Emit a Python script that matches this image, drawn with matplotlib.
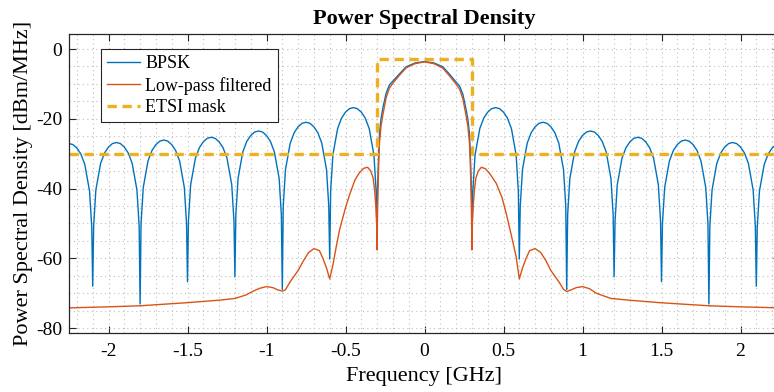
import matplotlib
matplotlib.use('Agg')
import matplotlib.pyplot as plt
from matplotlib.ticker import MultipleLocator, FormatStrFormatter

plt.rcParams['font.family'] = ['Liberation Serif', 'DejaVu Serif']
plt.rcParams['axes.unicode_minus'] = False

# BPSK spectrum, frequency in GHz, PSD in dBm/MHz
freq_bpsk = [
    -2.25, -2.225, -2.2, -2.175, -2.15, -2.12, -2.106, -2.1,
    -2.094, -2.08, -2.05, -2.025, -2.0, -1.975, -1.95, -1.925, -1.9, -1.875, -1.85, -1.82, -1.806, -1.8,
    -1.794, -1.78, -1.75, -1.725, -1.7, -1.675, -1.65, -1.625, -1.6, -1.575, -1.55, -1.52, -1.506, -1.5,
    -1.494, -1.48, -1.45, -1.425, -1.4, -1.375, -1.35, -1.325, -1.3, -1.275, -1.25, -1.22, -1.206, -1.2,
    -1.194, -1.18, -1.15, -1.125, -1.1, -1.075, -1.05, -1.025, -1.0, -0.975, -0.95, -0.92, -0.906, -0.9,
    -0.894, -0.88, -0.85, -0.825, -0.8, -0.775, -0.75, -0.725, -0.7, -0.675, -0.65, -0.62, -0.606, -0.6,
    -0.594, -0.58, -0.55, -0.525, -0.5, -0.475, -0.45, -0.425, -0.4, -0.375, -0.35, -0.32, -0.306, -0.3,
    -0.297, -0.29, -0.285, -0.275, -0.264, -0.243, -0.222, -0.2, -0.16, -0.116, -0.06, 0.0,
    0.06, 0.116, 0.16, 0.2, 0.222, 0.243, 0.264, 0.275, 0.285, 0.29, 0.297,
    0.3, 0.306, 0.32, 0.35, 0.375, 0.4, 0.425, 0.45, 0.475, 0.5, 0.525, 0.55, 0.58, 0.594,
    0.6, 0.606, 0.62, 0.65, 0.675, 0.7, 0.725, 0.75, 0.775, 0.8, 0.825, 0.85, 0.88, 0.894,
    0.9, 0.906, 0.92, 0.95, 0.975, 1.0, 1.025, 1.05, 1.075, 1.1, 1.125, 1.15, 1.18, 1.194,
    1.2, 1.206, 1.22, 1.25, 1.275, 1.3, 1.325, 1.35, 1.375, 1.4, 1.425, 1.45, 1.48, 1.494,
    1.5, 1.506, 1.52, 1.55, 1.575, 1.6, 1.625, 1.65, 1.675, 1.7, 1.725, 1.75, 1.78, 1.794,
    1.8, 1.806, 1.82, 1.85, 1.875, 1.9, 1.925, 1.95, 1.975, 2.0, 2.025, 2.05, 2.08, 2.094,
    2.1, 2.106, 2.12, 2.15, 2.175, 2.2, 2.225, 2.25,
]
psd_bpsk = [
    -27.1, -27.4, -28.4, -30.1, -33.1, -40.7, -51.1, -68.0,
    -50.8, -40.4, -32.8, -29.8, -28.1, -27.1, -26.8, -27.1, -28.1, -29.8, -32.8, -40.4, -50.8, -73.1,
    -50.1, -39.7, -32.1, -29.1, -27.4, -26.4, -26.1, -26.4, -27.4, -29.1, -32.1, -39.7, -50.1, -66.7,
    -49.3, -38.9, -31.3, -28.3, -26.6, -25.6, -25.3, -25.6, -26.6, -28.3, -31.3, -38.9, -49.3, -65.3,
    -47.5, -37.1, -29.5, -26.5, -24.8, -23.8, -23.5, -23.8, -24.8, -26.5, -29.5, -37.1, -47.5, -68.9,
    -45.0, -34.6, -27.0, -24.0, -22.3, -21.3, -21.0, -21.3, -22.3, -24.0, -27.0, -34.6, -45.0, -60.2,
    -40.8, -30.4, -22.8, -19.8, -18.1, -17.1, -16.8, -17.1, -18.1, -19.8, -22.8, -30.4, -40.8, -55.0,
    -40.0, -30.0, -24.2, -20.0, -17.0, -12.7, -10.3, -9.2, -7.2, -5.1, -4.0, -3.6,
    -4.0, -5.1, -7.3, -9.5, -10.6, -13.0, -17.5, -20.3, -24.5, -30.0, -40.0,
    -55.0, -40.8, -30.4, -22.8, -19.8, -18.1, -17.1, -16.8, -17.1, -18.1, -19.8, -22.8, -30.4, -40.8,
    -60.2, -45.0, -34.6, -27.0, -24.0, -22.3, -21.3, -21.0, -21.3, -22.3, -24.0, -27.0, -34.6, -45.0,
    -68.9, -47.5, -37.1, -29.5, -26.5, -24.8, -23.8, -23.5, -23.8, -24.8, -26.5, -29.5, -37.1, -47.5,
    -65.3, -49.3, -38.9, -31.3, -28.3, -26.6, -25.6, -25.3, -25.6, -26.6, -28.3, -31.3, -38.9, -49.3,
    -66.7, -50.1, -39.7, -32.1, -29.1, -27.4, -26.4, -26.1, -26.4, -27.4, -29.1, -32.1, -39.7, -50.1,
    -73.1, -50.8, -40.4, -32.8, -29.8, -28.1, -27.1, -26.8, -27.1, -28.1, -29.8, -32.8, -40.4, -50.8,
    -68.0, -51.1, -40.7, -33.1, -30.1, -28.4, -27.4, -27.1,
]

# low-pass filtered spectrum
freq_lpf = [
    -2.25, -2.0, -1.8, -1.5, -1.3, -1.2, -1.13, -1.08, -1.044, -1.0, -0.96, -0.93, -0.9, -0.88,
    -0.85, -0.8, -0.77, -0.735, -0.7, -0.665, -0.643, -0.62, -0.6, -0.58, -0.56, -0.538, -0.5,
    -0.475, -0.44, -0.411, -0.385, -0.36, -0.34, -0.325, -0.316, -0.308, -0.303, -0.3,
    -0.297, -0.29, -0.285, -0.275, -0.264, -0.243, -0.222, -0.2, -0.16, -0.116, -0.06, 0.0,
    0.06, 0.116, 0.16, 0.2, 0.222, 0.243, 0.264, 0.275, 0.285, 0.29, 0.297,
    0.3, 0.303, 0.308, 0.316, 0.325, 0.34, 0.36, 0.385, 0.411, 0.454, 0.49, 0.517, 0.55, 0.58,
    0.6, 0.62, 0.643, 0.665, 0.7, 0.735, 0.77, 0.8, 0.85, 0.88, 0.9, 0.93, 0.96, 1.0, 1.044,
    1.087, 1.13, 1.18, 1.297, 1.487, 1.8, 2.0, 2.25,
]
psd_lpf = [
    -74.2, -73.9, -73.6, -72.7, -72.0, -71.5, -70.5, -69.3, -68.6, -68.1, -68.4, -69.0, -69.4, -69.0,
    -66.7, -63.5, -61.0, -58.4, -57.2, -57.8, -60.0, -62.8, -65.9, -62.0, -57.0, -51.9, -45.5,
    -41.9, -37.5, -35.4, -34.2, -33.9, -35.0, -37.0, -40.4, -45.0, -50.0, -57.6,
    -45.0, -33.0, -27.0, -22.0, -19.0, -14.0, -11.2, -9.8, -7.6, -5.4, -4.2, -3.7,
    -4.2, -5.5, -7.8, -10.1, -11.5, -14.3, -19.3, -22.3, -27.2, -33.0, -45.0,
    -57.6, -50.0, -45.0, -40.4, -37.0, -35.0, -33.9, -34.3, -35.6, -38.5, -42.5, -47.1, -53.5, -59.5,
    -65.9, -62.8, -60.0, -57.8, -57.2, -58.3, -60.8, -63.5, -66.7, -68.9, -69.5, -69.0, -68.4, -68.1, -68.7,
    -70.0, -70.7, -71.5, -72.0, -72.7, -73.6, -73.9, -74.2,
]

# ETSI mask
mask_freq = [-2.25, -0.3, -0.3, 0.3, 0.3, 2.25]
mask_psd = [-30, -30, -3, -3, -30, -30]

W, H = 774, 392
fig = plt.figure(figsize=(W / 100, H / 100), dpi=100)
x0, x1, y0, y1 = 69, 780, 34, 333
ax = fig.add_axes([x0 / W, (H - y1) / H, (x1 - x0) / W, (y1 - y0) / H])

ax.plot(freq_bpsk, psd_bpsk, color='#0072BD', lw=1.0, label='BPSK')
ax.plot(freq_lpf, psd_lpf, color='#D95319', lw=1.0, label='Low-pass filtered')
ax.plot(mask_freq, mask_psd, color='#EDB120', lw=2.4, ls=(0, (2.8, 1.7)), label='ETSI mask')

ax.set_xlim(-2.25, 2.25)
ax.set_ylim(-81.4, 4.3)
ax.xaxis.set_major_locator(MultipleLocator(0.5))
ax.xaxis.set_minor_locator(MultipleLocator(0.1))
ax.yaxis.set_major_locator(MultipleLocator(20))
ax.yaxis.set_minor_locator(MultipleLocator(5))
ax.xaxis.set_major_formatter(FormatStrFormatter('%g'))
ax.yaxis.set_major_formatter(FormatStrFormatter('%g'))

ax.grid(which='both', ls=(0, (1, 3)), color='#bfbfbf', lw=0.8)
ax.set_axisbelow(True)
ax.tick_params(which='major', direction='in', length=5, width=0.8, color='#262626',
               top=True, right=True, labelsize=14, pad=7)
ax.tick_params(which='minor', length=0, top=True, right=True)
ax.tick_params(axis='y', pad=5)
for s in ax.spines.values():
    s.set_color('#262626')
    s.set_linewidth(0.9)

ax.set_title('Power Spectral Density', fontsize=16, fontweight='bold', pad=7)
ax.set_xlabel('Frequency [GHz]', fontsize=16)
ax.set_ylabel('Power Spectral Density [dBm/MHz]', fontsize=16)
ax.xaxis.set_label_coords(0.5, -0.115)
ax.yaxis.set_label_coords(-0.051, 0.5)

leg = ax.legend(loc='upper left', bbox_to_anchor=(0.045, 0.95), borderaxespad=0,
                fontsize=13, frameon=True, fancybox=False, framealpha=1,
                edgecolor='#262626', handlelength=1.8, handletextpad=0.3,
                borderpad=0.35, labelspacing=0.25)
leg.get_frame().set_linewidth(0.8)

fig.savefig('out.png', dpi=100)
